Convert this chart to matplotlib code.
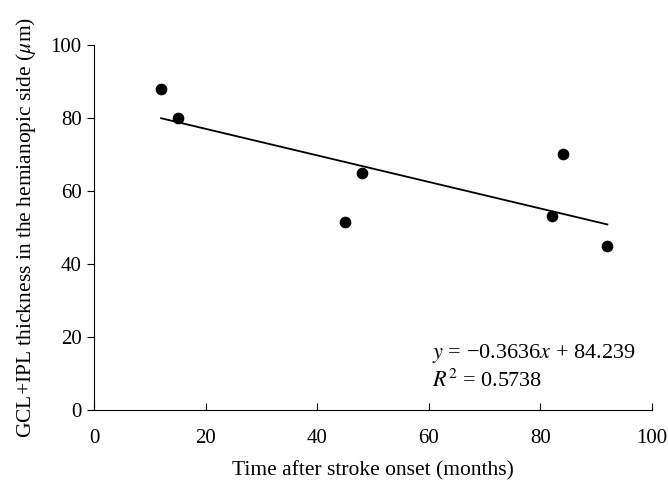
import matplotlib
matplotlib.use('Agg')
import matplotlib.pyplot as plt
import numpy as np

# data
months = [12, 15, 45, 48, 82, 84, 92]
thickness = [88, 80, 51.5, 65, 53, 70, 45]
slope = -0.3636
intercept = 84.239
r2 = 0.5738

plt.rcParams['font.family'] = 'Liberation Serif'
plt.rcParams['mathtext.fontset'] = 'stix'

fig = plt.figure(figsize=(6.68, 4.92), dpi=100)
ax = fig.add_axes([0.141, 0.167, 0.835, 0.742])

ax.scatter(months, thickness, s=55, color='black', zorder=3)
fit_x = np.array([min(months), max(months)])
ax.plot(fit_x, slope * fit_x + intercept, color='black', linewidth=1.3)

ax.set_xlim(0, 100)
ax.set_ylim(0, 100)
ax.set_xticks(range(0, 101, 20))
ax.set_yticks(range(0, 101, 20))
ax.spines['top'].set_visible(False)
ax.spines['right'].set_visible(False)
ax.tick_params(axis='x', direction='in', length=5, labelsize=15, pad=14)
ax.tick_params(axis='y', direction='out', length=5, labelsize=15, pad=4)

ax.set_xlabel('Time after stroke onset (months)', fontsize=15.5, labelpad=9)
ax.set_ylabel(r'GCL+IPL thickness in the hemianopic side ($\mu$m)', fontsize=15.5, labelpad=9)

ax.text(60.5, 15.5, r'$y$ = −0.3636$x$ + 84.239', fontsize=16, va='center')
ax.text(60.5, 8, r'$R^2$ = 0.5738', fontsize=16, va='center')

fig.savefig('out.png', dpi=100)
